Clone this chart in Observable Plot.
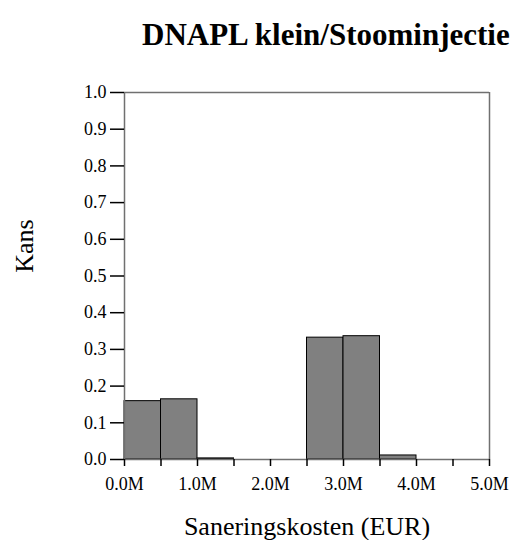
<!DOCTYPE html>
<html>
<head>
<meta charset="utf-8">
<script src="https://cdn.jsdelivr.net/npm/d3@7"></script>
<script src="https://cdn.jsdelivr.net/npm/@observablehq/plot@0.6"></script>
<style>
  body { margin: 0; background: #fff; font-family: "Liberation Serif", "Times New Roman", serif; }
  #title { position: relative; height: 60px; }
  #title span { position: absolute; left: 142px; top: 19px; font-size: 31px; line-height: 31px;
                font-weight: bold; color: #000; white-space: nowrap; }
  #chart svg { overflow: visible; }
</style>
</head>
<body>
<div id="title"><span>DNAPL klein/Stoominjectie</span></div>
<div id="chart"></div>
<script>
// Histogram bins (EUR) and probabilities
const binLo = [0, 500000, 1000000, 2500000, 3000000, 3500000];
const binHi = [500000, 1000000, 1500000, 3000000, 3500000, 4000000];
const kans  = [0.159, 0.164, 0.003, 0.332, 0.336, 0.011];

const xTickValues = [0, 1000000, 2000000, 3000000, 4000000, 5000000];
const xTickLabels = ["0.0M", "1.0M", "2.0M", "3.0M", "4.0M", "5.0M"];
const xMinorTicks = [0, 500000, 1000000, 1500000, 2000000, 2500000, 3000000, 3500000, 4000000, 4500000, 5000000];
const yTickValues = [0, 0.1, 0.2, 0.3, 0.4, 0.5, 0.6, 0.7, 0.8, 0.9, 1.0];
const yTickLabels = ["0.0", "0.1", "0.2", "0.3", "0.4", "0.5", "0.6", "0.7", "0.8", "0.9", "1.0"];

const bins = binLo.map((lo, i) => ({lo, hi: binHi[i], p: kans[i]}));

const chart = Plot.plot({
  width: 511,
  height: 480,
  marginLeft: 124,
  marginRight: 22,
  marginTop: 32,
  marginBottom: 81,
  style: {fontFamily: "'Liberation Serif', 'Times New Roman', serif", fontSize: "18px", color: "#000", background: "#fff", overflow: "visible"},
  x: {domain: [0, 5000000]},
  y: {domain: [0, 1]},
  marks: [
    Plot.rectY(bins, {x1: "lo", x2: "hi", y1: 0, y2: "p", fill: "#808080", stroke: "#000", strokeWidth: 1}),
    // frame lines
    Plot.ruleY([0, 1], {stroke: "#707070", strokeWidth: 1.5}),
    Plot.ruleX([0, 5000000], {stroke: "#707070", strokeWidth: 1.5}),
    Plot.axisX({ticks: xMinorTicks, tickSize: 7, text: null, stroke: "#000", strokeWidth: 1.5, label: null}),
    Plot.axisX({ticks: xTickValues, tickSize: 0, tickPadding: 18, tickFormat: d => xTickLabels[xTickValues.indexOf(d)], fontSize: 18, fill: "#000", label: null}),
    Plot.axisY({ticks: yTickValues, tickSize: 14, tickPadding: 4, tickFormat: d => yTickLabels[yTickValues.findIndex(v => Math.abs(v - d) < 1e-9)], stroke: "#000", strokeWidth: 1.5, fontSize: 18, fill: "#000", label: null}),
    Plot.text(["Kans"], {frameAnchor: "left", rotate: -90, dx: -100, dy: -30, textAnchor: "middle", lineAnchor: "middle", fontSize: 26, fill: "#000"}),
    Plot.text(["Saneringskosten (EUR)"], {frameAnchor: "bottom", dy: 67, lineAnchor: "middle", fontSize: 26, fill: "#000"})
  ]
});
document.getElementById("chart").appendChild(chart);
</script>
</body>
</html>
